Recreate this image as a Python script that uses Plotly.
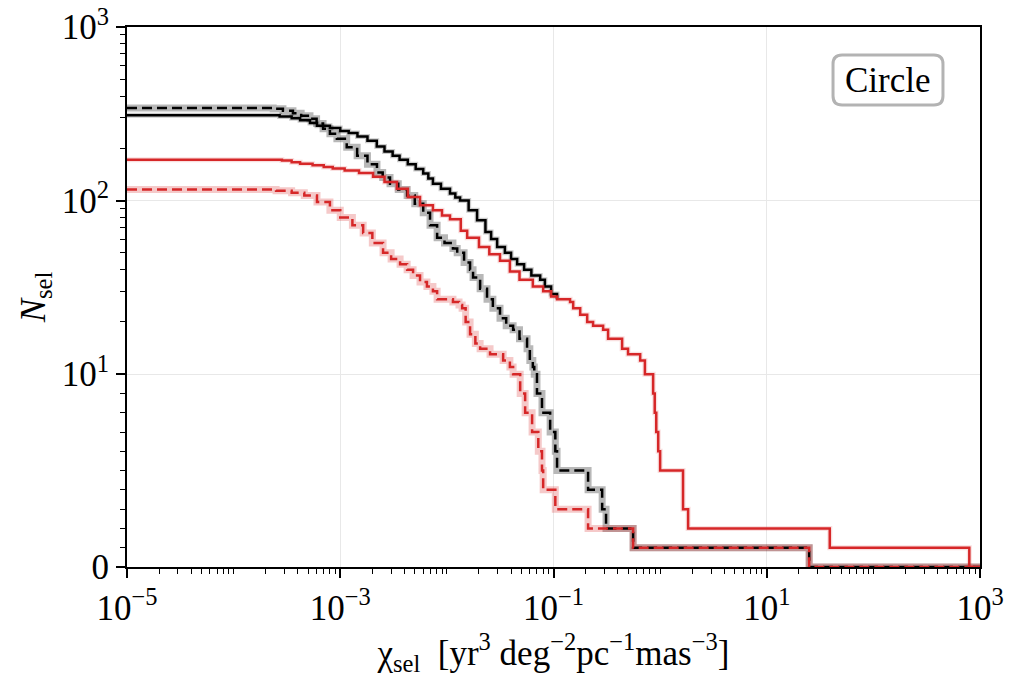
import numpy as np
import plotly.graph_objects as go

# ---------------- data ----------------
chi_black_solid = [1e-5, 2.7e-4, 3.5e-4, 4.2e-4, 5.2e-4, 6.05e-4, 8.0e-4, 1.0e-3, 1.2e-3, 1.45e-3,
                   1.8e-3, 2.2e-3, 2.6e-3, 3.1e-3, 3.6e-3, 4.3e-3, 5.1e-3, 6.0e-3, 6.7e-3, 7.4e-3,
                   8.8e-3, 1.07e-2, 1.2e-2, 1.33e-2, 1.6e-2, 1.92e-2, 2.3e-2, 2.6e-2, 2.96e-2, 3.5e-2,
                   4.0e-2, 4.56e-2, 5.3e-2, 6.2e-2, 7.5e-2, 8.3e-2, 9.5e-2, 0.108]
n_black_solid = [310, 305, 298, 290, 280, 270, 262, 252, 245, 234,
                 221, 205, 192, 181, 172, 162, 152, 143, 134, 125,
                 117, 110, 104, 100, 88, 77, 66, 60, 54, 50,
                 46, 43, 40, 37, 35, 32, 29, 27]

chi_black_dashed = [1e-5, 2.35e-4, 2.9e-4, 3.6e-4, 4.3e-4, 5.2e-4, 6.0e-4, 6.9e-4, 8.0e-4, 9.3e-4,
                    1.15e-3, 1.44e-3, 1.8e-3, 2.21e-3, 2.5e-3, 2.93e-3, 3.5e-3, 4.24e-3, 5.0e-3, 6.0e-3,
                    6.95e-3, 8.1e-3, 9.5e-3, 1.14e-2, 1.25e-2, 1.45e-2, 1.65e-2, 1.76e-2, 2.05e-2, 2.38e-2,
                    2.7e-2, 3.15e-2, 3.6e-2, 4.18e-2, 4.8e-2, 5.65e-2, 6.0e-2, 6.4e-2, 6.6e-2, 0.070,
                    0.078, 0.093, 0.104, 0.108, 0.211, 0.286, 0.311, 0.558, 25.0, 1000.0]
n_black_dashed = [342, 338, 329, 318, 308, 296, 278, 259, 243, 227,
                  203, 181, 162, 145, 136, 125, 116, 107, 96, 85,
                  72, 61, 57, 53, 50, 44, 40, 36, 31, 27,
                  24, 21, 19, 18, 16, 14, 12, 11, 10, 9,
                  8, 7, 6, 5, 4, 3, 2, 1, 0, 0]

chi_red_solid = [1e-5, 2.84e-4, 3.5e-4, 4.2e-4, 5.5e-4, 7e-4, 8.5e-4, 1.1e-3, 1.5e-3, 2.03e-3,
                 2.6e-3, 3.4e-3, 4.3e-3, 5.6e-3, 7.4e-3, 9.0e-3, 1.07e-2, 1.35e-2, 1.55e-2, 2.0e-2,
                 2.5e-2, 3.15e-2, 3.9e-2, 4.8e-2, 6.4e-2, 8.0e-2, 9.5e-2, 0.108, 0.143, 0.153,
                 0.178, 0.207, 0.235, 0.292, 0.325, 0.44, 0.5, 0.65, 0.72, 0.86,
                 0.89, 0.92, 0.96, 1.0, 1.64, 1.83, 39.0, 794.0, 1000.0]
n_red_solid = [172, 170, 166, 163, 160, 156, 153, 149, 144, 137,
               128, 117, 105, 94, 88, 82, 78, 67, 61, 54,
               49, 45, 39, 35, 32, 30, 28, 27, 26, 24,
               22, 20, 19, 18, 16, 14, 13, 12, 10, 9,
               8, 7, 6, 5, 3, 2, 1, 0, 0]

chi_red_dashed = [1e-5, 2.5e-4, 3.5e-4, 4.6e-4, 6.05e-4, 8.0e-4, 1.0e-3, 1.3e-3, 1.64e-3, 2.0e-3,
                  2.52e-3, 3.0e-3, 3.64e-3, 4.24e-3, 4.82e-3, 5.6e-3, 6.5e-3, 7.4e-3, 8.1e-3, 1.14e-2,
                  1.3e-2, 1.39e-2, 1.5e-2, 1.65e-2, 1.85e-2, 2.05e-2, 2.54e-2, 3.37e-2, 3.9e-2, 4.18e-2,
                  4.87e-2, 5.42e-2, 6.3e-2, 7.2e-2, 7.8e-2, 8.0e-2, 0.104, 0.211, 0.558, 25.0,
                  1000.0]
n_red_dashed = [116, 114, 111, 107, 98, 88, 80, 72, 65, 57,
                50, 46, 43, 40, 37, 34, 32, 30, 27, 26,
                25, 24, 20, 17, 15, 14, 13, 12, 11, 10,
                9, 8, 7, 6, 5, 4, 3, 2, 1, 0,
                0]

y_major_vals = [0, 10, 100, 1000]
y_major_text = ["0", "10<sup>1</sup>", "10<sup>2</sup>", "10<sup>3</sup>"]
x_major_vals = [1e-5, 1e-3, 1e-1, 1e1, 1e3]
x_major_text = ["10<sup>−5</sup>", "10<sup>−3</sup>", "10<sup>−1</sup>", "10<sup>1</sup>", "10<sup>3</sup>"]

# ---------------- symmetric-log y scale (linthresh=10, linscale=1) ----------------
LINTHRESH = 10.0
LINSCALE = 1.0
ADJ = LINSCALE / (1.0 - 1.0 / 10.0)


def symlog(v):
    v = np.asarray(v, dtype=float)
    a = np.abs(v)
    lin = v / LINTHRESH * ADJ
    log = np.sign(v) * (ADJ + np.log10(np.maximum(a, LINTHRESH) / LINTHRESH))
    return np.where(a <= LINTHRESH, lin, log)


RED = "#d62728"
FONT = "Liberation Serif"
FS = 35

fig = go.Figure()

series = [
    (chi_black_solid, n_black_solid, "black", "solid", "rgba(0,0,0,0.20)", 5),
    (chi_black_dashed, n_black_dashed, "black", "10px,5px", "rgba(0,0,0,0.28)", 7),
    (chi_red_solid, n_red_solid, RED, "solid", "rgba(214,39,40,0.15)", 5),
    (chi_red_dashed, n_red_dashed, RED, "10px,5px", "rgba(214,39,40,0.25)", 7),
]

# translucent bands underneath
for chi, n, col, dash, band, bw in series:
    fig.add_trace(go.Scatter(x=chi, y=symlog(n), mode="lines", line=dict(color=band, width=bw, shape="hv"),
                             hoverinfo="skip", showlegend=False))
# main lines
for chi, n, col, dash, band, bw in series:
    fig.add_trace(go.Scatter(x=chi, y=symlog(n), mode="lines",
                             line=dict(color=col, width=2.5, dash=dash, shape="hv"),
                             showlegend=False))

x_minor = [m * 10.0 ** k for k in range(-5, 3) for m in range(1, 10)
           if not (m == 1 and k % 2 != 0)]
y_minor = [m * 10 ** k for k in range(0, 3) for m in range(1, 10) if not (m == 1 and k > 0)]

fig.update_xaxes(
    type="log", range=[-5, 3], automargin=False,
    tickmode="array", tickvals=x_major_vals, ticktext=x_major_text,
    ticks="outside", ticklen=9, tickwidth=1.6, tickcolor="black",
    showline=True, linecolor="black", linewidth=2, mirror=True,
    showgrid=True, gridcolor="#e8e8e8", gridwidth=1, zeroline=False,
    minor=dict(tickmode="array", tickvals=x_minor, ticks="outside", ticklen=5, tickwidth=1.2,
               tickcolor="black", showgrid=False),
    tickfont=dict(family=FONT, size=FS, color="black"),
    title=dict(text="χ<sub>sel</sub>  [yr<sup>3</sup> deg<sup>−2</sup>pc<sup>−1</sup>mas<sup>−3</sup>]",
               font=dict(family=FONT, size=FS, color="black"), standoff=4),
)
fig.update_yaxes(
    range=[float(symlog(0)), float(symlog(1000))], automargin=False,
    tickmode="array", tickvals=symlog(y_major_vals), ticktext=y_major_text,
    ticks="outside", ticklen=9, tickwidth=1.6, tickcolor="black",
    showline=True, linecolor="black", linewidth=2, mirror=True,
    showgrid=True, gridcolor="#e8e8e8", gridwidth=1, zeroline=False,
    minor=dict(tickmode="array", tickvals=symlog(y_minor), ticks="outside", ticklen=5, tickwidth=1.2,
               tickcolor="black", showgrid=False),
    tickfont=dict(family=FONT, size=FS, color="black"),
    title=dict(text="<i>N</i><sub>sel</sub>", font=dict(family=FONT, size=FS, color="black"), standoff=6),
)

# rounded legend-like box with "Circle"
x0, x1, y0, y1 = 0.8277, 0.9566, 0.8556, 0.948
rx, ry = 9 / 853, 9 / 540
path = (f"M {x0+rx},{y0} L {x1-rx},{y0} Q {x1},{y0} {x1},{y0+ry} L {x1},{y1-ry} Q {x1},{y1} {x1-rx},{y1} "
        f"L {x0+rx},{y1} Q {x0},{y1} {x0},{y1-ry} L {x0},{y0+ry} Q {x0},{y0} {x0+rx},{y0} Z")
fig.add_shape(type="path", path=path, xref="paper", yref="paper",
              line=dict(color="#b3b3b3", width=3), fillcolor="white", layer="above")
fig.add_annotation(x=(x0 + x1) / 2, y=(y0 + y1) / 2, xref="paper", yref="paper", text="Circle",
                   xanchor="center", yanchor="middle",
                   showarrow=False, font=dict(family=FONT, size=FS, color="black"))

fig.update_layout(
    width=1015, height=683,
    margin=dict(l=127, r=35, t=27, b=116),
    plot_bgcolor="white", paper_bgcolor="white",
)

fig.write_html("out.html")
